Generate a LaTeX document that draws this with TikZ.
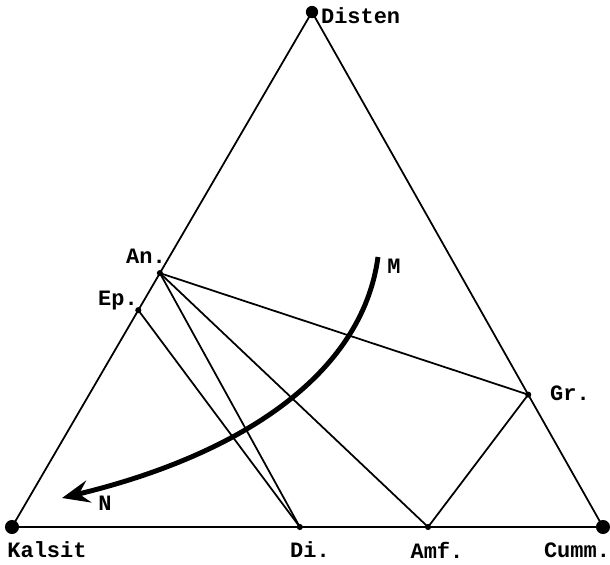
\documentclass[tikz,border=0pt]{standalone}
\usepackage{fontspec}
\setmonofont{Liberation Mono}
\usepackage{tikz}
\usetikzlibrary{arrows.meta, positioning, calc}

\begin{document}
\begin{tikzpicture}[
    x=0.02cm, y=-0.02cm,
    edge/.style={line width=1pt},
    bigdot/.style={circle, fill, inner sep=0pt, minimum size=8pt},
    smalldot/.style={circle, fill, inner sep=0pt, minimum size=3.5pt},
    lbl/.style={font=\fontsize{12.5}{14}\selectfont\ttfamily\bfseries, inner sep=1pt},
    trend/.style={-{Stealth[length=5.5mm, width=4.5mm, inset=2mm]}, line width=2.8pt}
]
\useasboundingbox (0,0) rectangle (610,565);

% --- Corners ---
\coordinate (kal) at (12,527);
\coordinate (cum) at (603,527);
\coordinate (dis) at (312,12);

% --- Points on the sides ---
\coordinate (an) at ($(dis)!0.507!(kal)$);
\coordinate (ep) at ($(dis)!0.579!(kal)$);
\coordinate (gr) at ($(dis)!0.743!(cum)$);
\coordinate (di) at ($(kal)!0.487!(cum)$);
\coordinate (amf) at ($(kal)!0.704!(cum)$);

% Triangle
\draw[edge] (kal) -- (cum) -- (dis) -- cycle;

% Tie lines
\draw[edge] (an) -- (gr);
\draw[edge] (an) -- (di);
\draw[edge] (an) -- (amf);
\draw[edge] (ep) -- (di);
\draw[edge] (gr) -- (amf);

% Dots
\node[bigdot] at (kal) {};
\node[bigdot] at (cum) {};
\node[bigdot, minimum size=7pt] at (dis) {};
\foreach \p in {an, ep, gr, di, amf}
    \node[smalldot] at (\p) {};

% --- Labels ---
\node[lbl, anchor=west] (dislbl) at (319,16) {Disten};
\node[lbl] (kallbl) at (47,550) {Kalsit};
\node[lbl] (dilbl) at (310,550) {Di.};
\node[lbl] (amflbl) at (437,550) {Amf.};
\node[lbl] (cumlbl) at (577,550) {Cumm.};
\node[lbl] (anlbl) at (146,256) {An.};
\node[lbl] (eplbl) at (118,301) {Ep.};
\node[lbl] (grlbl) at (570,393) {Gr.};

% --- M to N ---
\coordinate (mtop) at (378,257);
\coordinate (ntip) at (62,498);
\draw[trend] (mtop) .. controls (362,375) and (240,455) .. (ntip);
\node[lbl] (mlbl) at (394,266) {M};
\node[lbl] (nlbl) at (105,503) {N};

\end{tikzpicture}
\end{document}
